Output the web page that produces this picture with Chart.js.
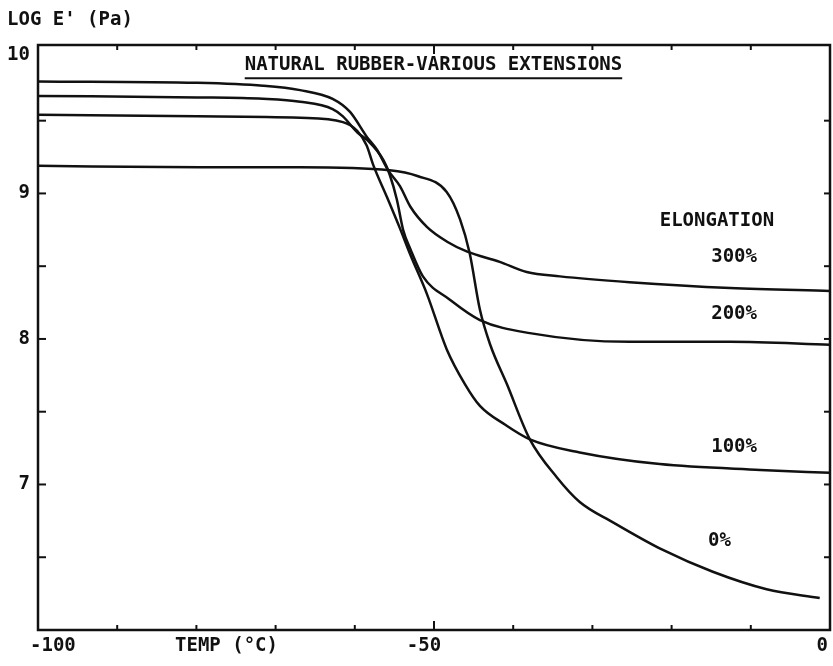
<!DOCTYPE html>
<html>
<head>
<meta charset="utf-8">
<script src="https://cdn.jsdelivr.net/npm/chart.js@4.4.1/dist/chart.umd.min.js"></script>
<style>
  html, body { margin: 0; padding: 0; background: #fff; }
  #wrap { width: 833px; height: 666px; }
</style>
</head>
<body>
<div id="wrap"><canvas id="rubberChart"></canvas></div>
<script>
// storage modulus of natural rubber at various extensions
const temp300 = [-100, -79.9, -71.6, -66.9, -62.8, -60.6, -58.5, -57.2, -55.8, -54.3, -53.0, -50.9, -48.4, -45.8, -41.7, -38.3, -34.1, -25.3, -12.6, 0];
const logE300 = [9.77, 9.76, 9.74, 9.71, 9.65, 9.56, 9.39, 9.30, 9.16, 9.05, 8.91, 8.77, 8.67, 8.60, 8.53, 8.46, 8.43, 8.39, 8.35, 8.33];

const temp200 = [-100, -79.9, -71.6, -66.9, -62.8, -61.5, -59.7, -58.5, -56.4, -55.6, -54.7, -53.9, -53.0, -51.4, -48.0, -44.2, -37.9, -25.3, -12.6, 0];
const logE200 = [9.67, 9.66, 9.65, 9.63, 9.58, 9.53, 9.42, 9.37, 9.23, 9.13, 8.96, 8.75, 8.62, 8.43, 8.27, 8.13, 8.04, 7.98, 7.98, 7.96];

const temp100 = [-100, -79.9, -66.9, -61.5, -59.7, -58.5, -57.7, -55.9, -54.3, -53.0, -50.9, -48.4, -46.1, -44.2, -41.0, -37.9, -31.6, -21.5, -8.8, 0];
const logE100 = [9.54, 9.53, 9.52, 9.49, 9.43, 9.33, 9.20, 8.97, 8.76, 8.58, 8.31, 7.93, 7.69, 7.54, 7.41, 7.31, 7.22, 7.14, 7.10, 7.08];

const temp0 = [-100, -79.5, -66.9, -55.6, -52.1, -48.4, -46.7, -45.5, -44.2, -42.9, -40.8, -37.9, -34.5, -31.6, -27.4, -21.1, -14.8, -8.0, -1.3];
const logE0 = [9.19, 9.18, 9.18, 9.16, 9.12, 9.01, 8.82, 8.59, 8.20, 7.96, 7.69, 7.31, 7.05, 6.88, 6.74, 6.55, 6.40, 6.28, 6.22];

const xTickValues = [-100, -50, 0];
const xTickLabels = ['-100', '-50', '0'];
const xMinorTicks = [-90, -80, -70, -60, -50, -40, -30, -20, -10];
const yTickValues = [10, 9, 8, 7];
const yMinorTicks = [6.5, 7, 7.5, 8, 8.5, 9, 9.5];

// label text and where it sits, in data units
const curveLabels = ['300%', '200%', '100%', '0%'];
const curveLabelX = [-15.0, -15.0, -15.0, -15.4];
const curveLabelY = [8.56, 8.17, 7.26, 6.61];

const FONT = 'bold 19px "DejaVu Sans Mono", "Liberation Mono", monospace';
const INK = '#111';

function toPoints(xs, ys) {
    return xs.map((t, i) => ({x: t, y: ys[i]}));
}

function seg(ctx, x1, y1, x2, y2) {
    ctx.beginPath();
    ctx.moveTo(x1, y1);
    ctx.lineTo(x2, y2);
    ctx.stroke();
}

const framePlugin = {
    id: 'frame',
    afterDatasetsDraw(chart) {
        const {ctx, chartArea: a, scales: {x, y}} = chart;
        ctx.save();
        ctx.strokeStyle = INK;
        ctx.fillStyle = INK;
        ctx.lineWidth = 2.5;
        ctx.strokeRect(a.left, a.top, a.right - a.left, a.bottom - a.top);

        // inside ticks
        ctx.lineWidth = 2;
        yMinorTicks.forEach(v => {
            const py = y.getPixelForValue(v);
            seg(ctx, a.left, py, a.left + 8, py);
            seg(ctx, a.right, py, a.right - 6, py);
        });
        xMinorTicks.forEach(v => {
            const px = x.getPixelForValue(v);
            seg(ctx, px, a.bottom, px, a.bottom - (v === -50 ? 9 : 5));
            seg(ctx, px, a.top, px, a.top + (v === -50 ? 9 : 5));
        });

        ctx.font = FONT;
        ctx.textBaseline = 'middle';

        // y labels
        ctx.textAlign = 'right';
        yTickValues.forEach(v => {
            const py = Math.max(y.getPixelForValue(v), a.top + 10);
            ctx.fillText(String(v), a.left - 8, py);
        });
        ctx.textAlign = 'left';
        ctx.fillText("LOG E' (Pa)", 7, 20);

        // x labels
        const ly = a.bottom + 16;
        xTickValues.forEach((v, i) => {
            const px = x.getPixelForValue(v);
            if (i === 0) { ctx.textAlign = 'left'; ctx.fillText(xTickLabels[i], px - 8, ly); }
            else if (i === xTickValues.length - 1) { ctx.textAlign = 'right'; ctx.fillText(xTickLabels[i], px - 2, ly); }
            else { ctx.textAlign = 'center'; ctx.fillText(xTickLabels[i], px - 10, ly); }
        });
        ctx.textAlign = 'left';
        ctx.fillText('TEMP (\u00B0C)', x.getPixelForValue(-82.7), ly);

        // title with underline
        const title = 'NATURAL RUBBER-VARIOUS EXTENSIONS';
        const tx = x.getPixelForValue(-73.9);
        const ty = y.getPixelForValue(9.88);
        ctx.fillText(title, tx, ty);
        const w = ctx.measureText(title).width;
        ctx.lineWidth = 2;
        seg(ctx, tx, ty + 13, tx + w, ty + 13);

        // curve labels
        ctx.fillText('ELONGATION', x.getPixelForValue(-21.5), y.getPixelForValue(8.81));
        curveLabels.forEach((t, i) => {
            ctx.fillText(t, x.getPixelForValue(curveLabelX[i]), y.getPixelForValue(curveLabelY[i]));
        });
        ctx.restore();
    }
};

const lineStyle = {
    borderColor: INK,
    borderWidth: 2.5,
    pointRadius: 0,
    fill: false,
    cubicInterpolationMode: 'monotone'
};

new Chart(document.getElementById('rubberChart'), {
    type: 'line',
    data: {
        datasets: [
            Object.assign({label: '300%', data: toPoints(temp300, logE300)}, lineStyle),
            Object.assign({label: '200%', data: toPoints(temp200, logE200)}, lineStyle),
            Object.assign({label: '100%', data: toPoints(temp100, logE100)}, lineStyle),
            Object.assign({label: '0%', data: toPoints(temp0, logE0)}, lineStyle)
        ]
    },
    options: {
        responsive: true,
        maintainAspectRatio: false,
        animation: false,
        layout: {
            padding: {left: 38, right: 3, top: 45, bottom: 36}
        },
        plugins: {
            legend: {display: false},
            tooltip: {enabled: false}
        },
        scales: {
            x: {type: 'linear', min: -100, max: 0, display: false},
            y: {type: 'linear', min: 6, max: 10.02, display: false}
        }
    },
    plugins: [framePlugin]
});
</script>
</body>
</html>
